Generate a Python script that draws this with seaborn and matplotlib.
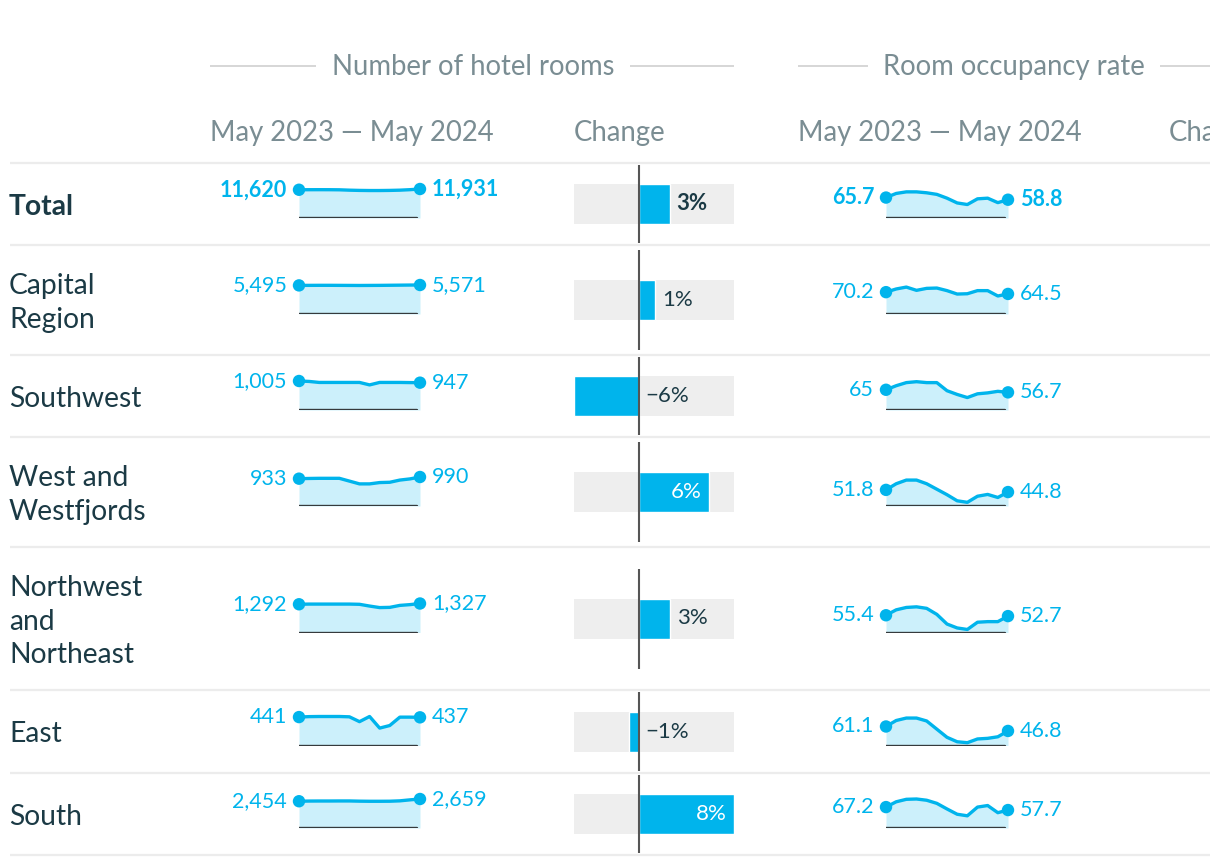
import matplotlib
matplotlib.use("Agg")
import matplotlib.pyplot as plt
import seaborn as sns
import pandas as pd

# ---------------- data ----------------
regions = ["Total", "Capital\nRegion", "Southwest", "West and\nWestfjords",
           "Northwest\nand\nNortheast", "East", "South"]
months = ["May 2023", "Jun 2023", "Jul 2023", "Aug 2023", "Sep 2023", "Oct 2023",
          "Nov 2023", "Dec 2023", "Jan 2024", "Feb 2024", "Mar 2024", "Apr 2024", "May 2024"]

rooms_total = [11620, 11640, 11650, 11640, 11600, 11450, 11350, 11300, 11300, 11350, 11450, 11650, 11931]
rooms_capital = [5495, 5500, 5510, 5510, 5500, 5490, 5480, 5490, 5500, 5520, 5540, 5560, 5571]
rooms_southwest = [1005, 990, 955, 955, 955, 955, 955, 870, 955, 955, 955, 950, 947]
rooms_west = [933, 940, 945, 945, 945, 850, 755, 755, 800, 810, 885, 925, 990]
rooms_northwest = [1292, 1300, 1300, 1300, 1300, 1300, 1290, 1210, 1140, 1150, 1240, 1275, 1327]
rooms_east = [441, 448, 450, 450, 450, 445, 370, 450, 270, 310, 440, 440, 437]
rooms_south = [2454, 2470, 2475, 2475, 2480, 2480, 2460, 2450, 2450, 2455, 2490, 2580, 2659]

occ_total = [65.7, 78.9, 84.0, 84.0, 81.0, 75.9, 63.7, 48.4, 43.3, 61.6, 63.7, 49.4, 58.8]
occ_capital = [70.2, 80.4, 86.5, 76.0, 82.4, 83.4, 75.1, 64.1, 65.1, 75.1, 75.1, 57.9, 64.5]
occ_southwest = [65.0, 78.0, 88.0, 91.0, 88.0, 88.0, 62.0, 50.0, 40.0, 52.0, 55.0, 60.0, 56.7]
occ_west = [51.8, 71.5, 83.3, 83.3, 71.5, 53.9, 36.3, 16.7, 11.8, 31.4, 37.2, 27.4, 44.8]
occ_northwest = [55.4, 72.8, 80.5, 82.5, 77.6, 58.2, 27.2, 14.6, 9.7, 33.0, 34.9, 34.9, 52.7]
occ_east = [61.1, 80.3, 88.2, 88.2, 78.8, 52.5, 26.3, 12.0, 9.0, 21.0, 23.0, 28.0, 46.8]
occ_south = [67.2, 84.2, 92.2, 93.2, 89.2, 79.2, 61.2, 44.2, 39.2, 67.2, 72.2, 49.2, 57.7]

group_titles = ["Number of hotel rooms", "Room occupancy rate"]
sub_titles = ["May 2023 \u2014 May 2024", "Change"]

rooms = [rooms_total, rooms_capital, rooms_southwest, rooms_west,
         rooms_northwest, rooms_east, rooms_south]
occupancy = [occ_total, occ_capital, occ_southwest, occ_west,
             occ_northwest, occ_east, occ_south]
room_change = [(r[-1] / r[0] - 1) * 100 for r in rooms]

# ---------------- style ----------------
sns.set_theme(style="white")
plt.rcParams["font.family"] = ["Lato", "DejaVu Sans"]

BLUE = "#00b4ec"
FILL = "#ccf0fb"
DARK = "#1b3a45"
GREY = "#7a8d93"
RULE = "#cfcfcf"
SEP = "#ececec"
BARBG = "#eeeeee"
ZERO = "#555555"
UNDER = "#363a3c"

W, H = 1220, 866
VIS = 1210  # visible content width (table is cut at the right)
fig = plt.figure(figsize=(W / 100, H / 100), dpi=100)
fig.patch.set_facecolor("white")
base = fig.add_axes([0, 0, VIS / W, 1], zorder=0)
base.set_xlim(0, VIS)
base.set_ylim(H, 0)
base.axis("off")


def px_axes(x, y, w, h, z=2):
    ax = fig.add_axes([x / W, 1 - (y + h) / H, w / W, h / H], zorder=z)
    ax.patch.set_alpha(0)
    return ax


row_edges = [163, 245, 355, 437, 547, 690, 773, 855]
centers = [(a + b) / 2 for a, b in zip(row_edges[:-1], row_edges[1:])]

# separators
base.hlines(row_edges, 10, VIS + 20, color=SEP, lw=1.6, zorder=1)

# group headers
HDR_SIZE = 19.8
for title, cx, l1, l2, r1, r2 in [(group_titles[0], 473, 210, 316, 630, 734),
                                  (group_titles[1], 1014, 798, 868, 1160, 1230)]:
    base.text(cx, 67, title, ha="center", va="center", size=HDR_SIZE,
              color=GREY, weight="normal")
    base.hlines([66, 66], [l1, r1], [l2, r2], color=RULE, lw=1.2)

for x, t in [(210, sub_titles[0]), (574, sub_titles[1]),
             (798, sub_titles[0]), (1169, sub_titles[1])]:
    base.text(x, 133, t, ha="left", va="center", size=HDR_SIZE, color=GREY,
              weight="normal", clip_on=True)

# row labels
for i, (lab, cy) in enumerate(zip(regions, centers)):
    base.text(9, cy + 3, lab, ha="left", va="center", size=20.3, color=DARK,
              weight="bold" if i == 0 else "normal", linespacing=1.36)


def sparkline(x0, width, cy, values, ymax, bold, fmt):
    ax = px_axes(x0, cy - 15, width, 29)
    df = pd.DataFrame({"m": range(len(values)), "v": values})
    ax.fill_between(df["m"], df["v"], 0, color=FILL, lw=0, zorder=1)
    ax.axhline(0, xmin=0, xmax=0.975, color=UNDER, lw=1.7, zorder=2)
    sns.lineplot(data=df, x="m", y="v", ax=ax, color=BLUE, lw=2.4,
                 clip_on=False, zorder=3)
    ends = df.iloc[[0, -1]]
    sns.scatterplot(data=ends, x="m", y="v", ax=ax, color=BLUE, s=80,
                    edgecolor="none", clip_on=False, zorder=4)
    ax.set_xlim(0, len(values) - 1)
    ax.set_ylim(0, ymax)
    ax.axis("off")
    w = "bold" if bold else "normal"
    ax.annotate(fmt(values[0]), xy=(0, values[0]), xytext=(-8.5, 0),
                textcoords="offset points", ha="right", va="center",
                size=15.5, color=BLUE, weight=w, annotation_clip=False)
    ax.annotate(fmt(values[-1]), xy=(len(values) - 1, values[-1]),
                xytext=(8.5, 0), textcoords="offset points", ha="left",
                va="center", size=15.5, color=BLUE, weight=w,
                annotation_clip=False)


occ_max = max(max(o) for o in occupancy)
cmin, cmax = min(room_change), max(room_change)
ppx = 160 / (cmax - cmin)

for i, cy in enumerate(centers):
    bold = i == 0
    sparkline(299, 121, cy, rooms[i], max(rooms[i]), bold, lambda v: f"{v:,}")
    sparkline(886, 122, cy, occupancy[i], occ_max, bold, lambda v: f"{v:g}")

    # change bar
    row_h = row_edges[i + 1] - row_edges[i]
    h = min(row_h - 4, 100)
    ax = px_axes(574, cy - h / 2, 160, h)
    val = room_change[i]
    sns.barplot(x=[val], y=["c"], orient="h", width=1, color=BLUE,
                errorbar=None, ax=ax, saturation=1, zorder=2)
    ax.set_xlim(cmin, cmax)
    half = h / 40 * 0.5
    ax.set_ylim(half, -half)
    ax.axhspan(-0.5, 0.5, color=BARBG, lw=0, zorder=0)
    ax.axvline(0, color=ZERO, lw=1.5, zorder=3)
    ax.axis("off")
    lab = f"{round(val):d}%".replace("-", "\u2212")
    w = "bold" if bold else "normal"
    fs = 16
    if val > 0 and val * ppx > 50:
        ax.annotate(lab, xy=(val, 0), xytext=(-5, 0), textcoords="offset points",
                    ha="right", va="center", color="white", size=fs, weight=w,
                    zorder=4)
    elif val > 0:
        ax.annotate(lab, xy=(val, 0), xytext=(5, 0), textcoords="offset points",
                    ha="left", va="center", color=DARK, size=fs, weight=w, zorder=4)
    else:
        ax.annotate(lab, xy=(0, 0), xytext=(4, 0), textcoords="offset points",
                    ha="left", va="center", color=DARK, size=fs, weight=w, zorder=4)

fig.savefig("out.png", dpi=100, facecolor="white")
